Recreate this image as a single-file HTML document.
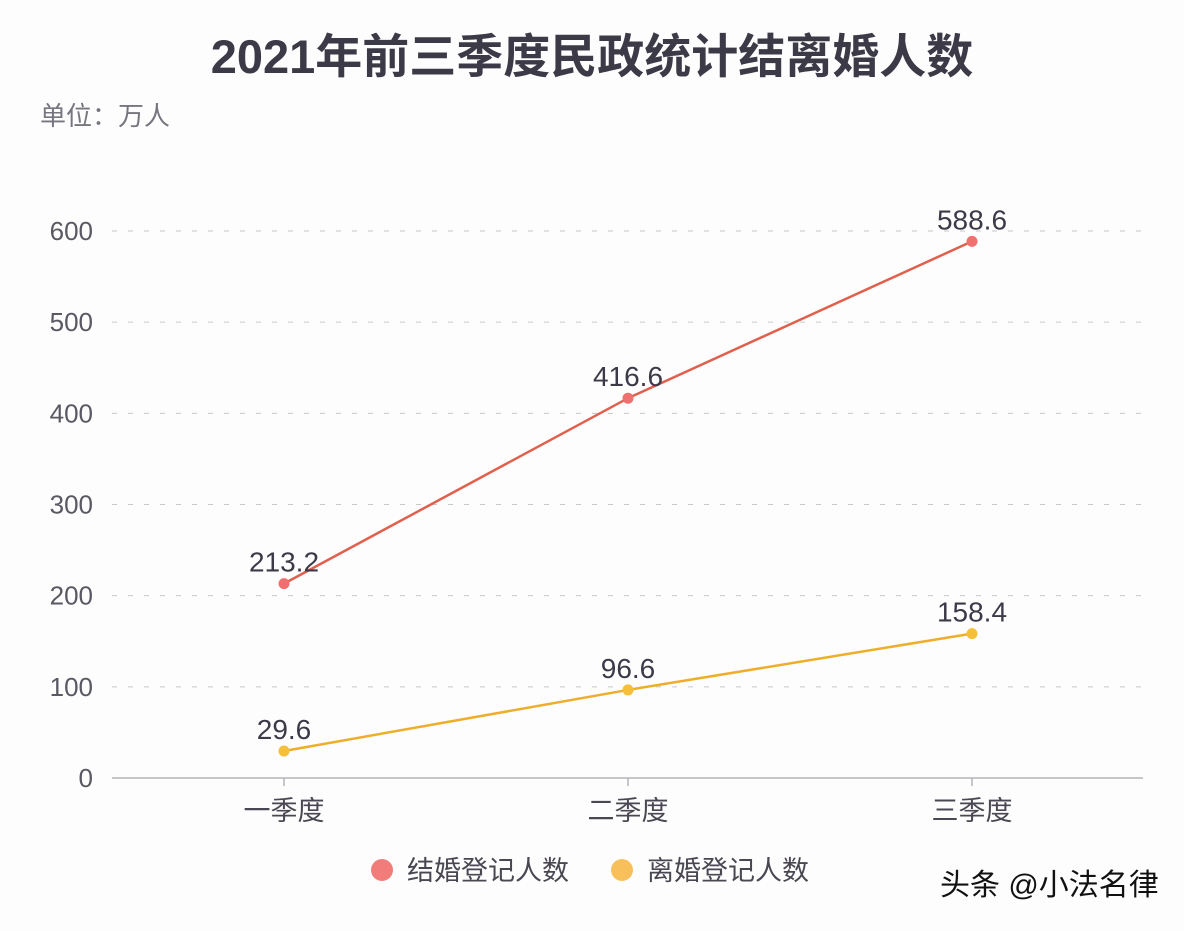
<!DOCTYPE html>
<html><head><meta charset="utf-8"><style>
html,body{margin:0;padding:0;background:#fdfdfd;}
body{width:1184px;height:926px;overflow:hidden;font-family:"Liberation Sans","Noto Sans CJK SC",sans-serif;}
</style></head><body>
<svg id="chart" width="1184" height="926" xmlns="http://www.w3.org/2000/svg" style="font-family:'Liberation Sans','Noto Sans CJK SC',sans-serif">
<text x="592" y="73" text-anchor="middle" font-size="47" font-weight="bold" fill="#3d3a48">2021年前三季度民政统计结离婚人数</text>
<text x="40" y="125" font-size="26" fill="#77757f">单位：万人</text>
<g id="grid"></g>
<g id="marks"></g>
<g>
<circle cx="382" cy="870" r="11" fill="#f27c7a"/>
<text x="407" y="880" font-size="27" fill="#4a4752">结婚登记人数</text>
<circle cx="622" cy="870" r="11" fill="#f8c05a"/>
<text x="647" y="880" font-size="27" fill="#4a4752">离婚登记人数</text>
</g>
<text x="940" y="895" font-size="30" fill="#111">头条 @小法名律</text>
</svg>
<script>
const categories = ['一季度','二季度','三季度'];
const marriage = [213.2, 416.6, 588.6];
const divorce = [29.6, 96.6, 158.4];
const yTicks = [0,100,200,300,400,500,600];
const NS='http://www.w3.org/2000/svg';
const x0=112,x1=1143,y0=778,yTop=231;
function xPos(i){return 284+i*344;}
function yPos(v){return y0-(v/600)*(y0-yTop);}
function mk(tag,attrs,parent){const e=document.createElementNS(NS,tag);for(const k in attrs)e.setAttribute(k,attrs[k]);parent.appendChild(e);return e;}
const grid=document.getElementById('grid'),marks=document.getElementById('marks');
yTicks.forEach(t=>{
  const y=yPos(t);
  if(t>0){const l=mk('line',{x1:x0,x2:x1,y1:y,y2:y,stroke:'#c8c8cc','stroke-width':1,'stroke-dasharray':'5 11'},grid);
  
  }
  const tx=mk('text',{x:93,y:y+9,'text-anchor':'end','font-size':26,fill:'#5a5862'},grid);
  
  
  tx.textContent=t;
});
const ax=mk('line',{x1:x0,x2:x1,y1:y0,y2:y0,stroke:'#b5b5ba','stroke-width':1.5},grid);


categories.forEach((c,i)=>{
  const tk=mk('line',{x1:xPos(i),x2:xPos(i),y1:y0,y2:y0+8,stroke:'#b5b5ba','stroke-width':1.5},grid);
  
  
  const t=mk('text',{x:xPos(i),y:y0+42,'text-anchor':'middle','font-size':27,fill:'#4a4752'},grid);
  
  
  t.textContent=c;
});
function series(vals,line,dot,name){
  const pts=vals.map((v,i)=>xPos(i)+','+yPos(v)).join(' ');
  const pl=mk('polyline',{points:pts,fill:'none',stroke:line,'stroke-width':2.5},marks);
  
  
  vals.forEach((v,i)=>{
    const c=mk('circle',{cx:xPos(i),cy:yPos(v),r:5.5,fill:dot},marks);
    
    
    const t=mk('text',{x:xPos(i),y:yPos(v)-12,'text-anchor':'middle','font-size':28,fill:'#3d3a48'},marks);
    
    
    t.textContent=v;
  });
}
series(marriage,'#e0604e','#f07070','marriage');
series(divorce,'#eeae2a','#f5bf3a','divorce');
</script>
</body></html>
